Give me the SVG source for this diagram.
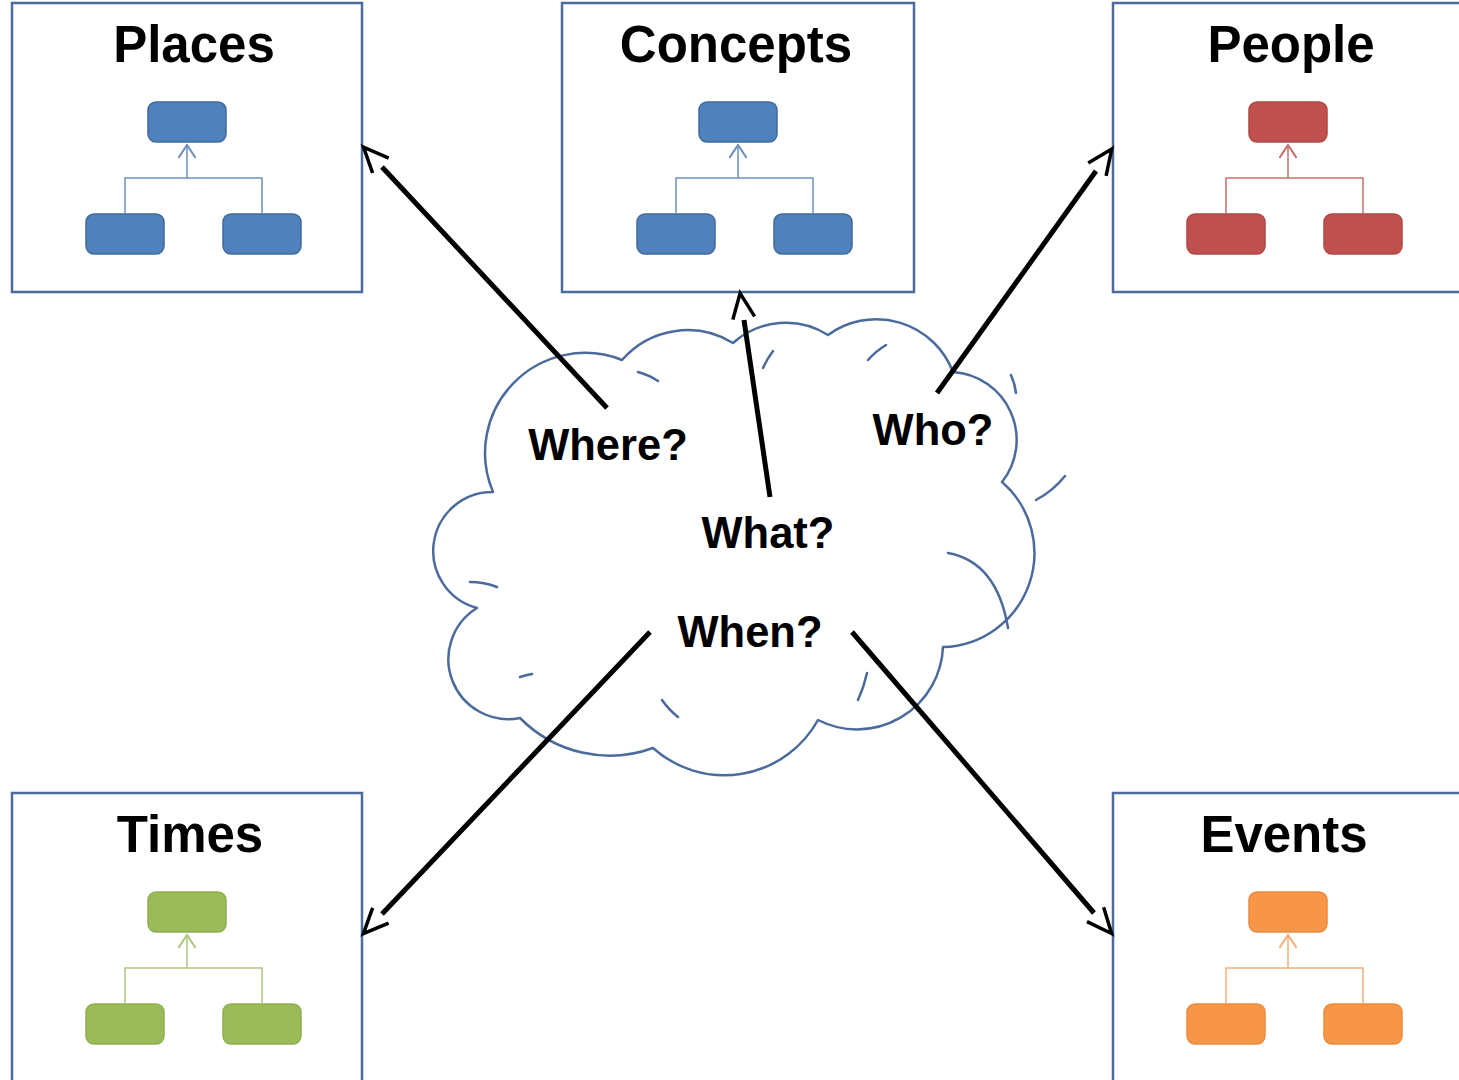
<svg xmlns="http://www.w3.org/2000/svg" width="1459" height="1080" viewBox="0 0 1459 1080">
<style>
.bg{fill:#ffffff}
.box{fill:#ffffff;stroke:#4a6b9c;stroke-width:2.5}
.title{font-family:"Liberation Sans",Arial,sans-serif;font-weight:bold;font-size:51px;fill:#000;text-anchor:middle}
.q{font-family:"Liberation Sans",Arial,sans-serif;font-weight:bold;font-size:43.5px;fill:#000;text-anchor:middle}
.cloud{fill:#ffffff;stroke:#4a6b9c;stroke-width:2.5;stroke-linejoin:round}
.deco{fill:none;stroke:#4a6b9c;stroke-width:2.5;stroke-linecap:round}
.conn{fill:none;stroke:#000;stroke-width:5;marker-end:url(#open)}
.tl{fill:none;stroke-width:1.5}
.tc{fill:none;stroke-width:2.2;stroke-linecap:round;stroke-linejoin:round}
.blue rect{fill:#4f81bd;stroke:#41699c;stroke-width:1.5}
.blue .tl,.blue .tc{stroke:#6f8fc0}
.red rect{fill:#c0504d;stroke:#b04743;stroke-width:1.5}
.red .tl,.red .tc{stroke:#c5706d}
.green rect{fill:#9bbb59;stroke:#8fae52;stroke-width:1.5}
.green .tl,.green .tc{stroke:#afc780}
.orange rect{fill:#f79646;stroke:#ec8c3f;stroke-width:1.5}
.orange .tl,.orange .tc{stroke:#f2b07c}
</style>
<defs>
<marker id="open" markerUnits="userSpaceOnUse" orient="auto" refX="0" refY="0" markerWidth="40" markerHeight="40" overflow="visible">
<path d="M2,-11 L27,0 L2,11" fill="none" stroke="#000" stroke-width="3.5" stroke-linejoin="miter"/>
</marker>
</defs>
<rect class="bg" x="0" y="0" width="1459" height="1080"/>

<g id="places">
<rect class="box" x="12" y="3" width="350" height="289"/>
<text class="title" x="194" y="62">Places</text>
<g class="blue">
<rect x="148" y="102" width="78" height="40" rx="8"/>
<rect x="86" y="214" width="78" height="40" rx="8"/>
<rect x="223" y="214" width="78" height="40" rx="8"/>
<path class="tl" d="M187,146 V178 M125,214 V178 H262 V214"/>
<path class="tc" d="M179,157 L187,145 L195,157"/>
</g>
</g>

<g id="concepts">
<rect class="box" x="562" y="3" width="352" height="289"/>
<text class="title" x="736" y="62">Concepts</text>
<g class="blue" transform="translate(551,0)">
<rect x="148" y="102" width="78" height="40" rx="8"/>
<rect x="86" y="214" width="78" height="40" rx="8"/>
<rect x="223" y="214" width="78" height="40" rx="8"/>
<path class="tl" d="M187,146 V178 M125,214 V178 H262 V214"/>
<path class="tc" d="M179,157 L187,145 L195,157"/>
</g>
</g>

<g id="people">
<rect class="box" x="1113" y="3" width="360" height="289"/>
<text class="title" x="1291" y="62">People</text>
<g class="red" transform="translate(1101,0)">
<rect x="148" y="102" width="78" height="40" rx="8"/>
<rect x="86" y="214" width="78" height="40" rx="8"/>
<rect x="223" y="214" width="78" height="40" rx="8"/>
<path class="tl" d="M187,146 V178 M125,214 V178 H262 V214"/>
<path class="tc" d="M179,157 L187,145 L195,157"/>
</g>
</g>

<g id="times">
<rect class="box" x="12" y="793" width="350" height="300"/>
<text class="title" x="190" y="852">Times</text>
<g class="green" transform="translate(0,790)">
<rect x="148" y="102" width="78" height="40" rx="8"/>
<rect x="86" y="214" width="78" height="40" rx="8"/>
<rect x="223" y="214" width="78" height="40" rx="8"/>
<path class="tl" d="M187,146 V178 M125,214 V178 H262 V214"/>
<path class="tc" d="M179,157 L187,145 L195,157"/>
</g>
</g>

<g id="events">
<rect class="box" x="1113" y="793" width="360" height="300"/>
<text class="title" x="1284" y="852">Events</text>
<g class="orange" transform="translate(1101,790)">
<rect x="148" y="102" width="78" height="40" rx="8"/>
<rect x="86" y="214" width="78" height="40" rx="8"/>
<rect x="223" y="214" width="78" height="40" rx="8"/>
<path class="tl" d="M187,146 V178 M125,214 V178 H262 V214"/>
<path class="tc" d="M179,157 L187,145 L195,157"/>
</g>
</g>

<g id="cloud">
<path class="cloud" d="M493,492 A100,100 0 0,1 622,360 A87,87 0 0,1 733,343 A79,79 0 0,1 828,335 A82,82 0 0,1 953,372 A68,68 0 0,1 1002,482 A94,94 0 0,1 943,647 A86,86 0 0,1 818,720 A107,107 0 0,1 653,748 A126,126 0 0,1 520,718 A60,60 0 0,1 477,608 A59,59 0 0,1 493,492 Z"/>
<path class="deco" d="M638,372 Q649,375 658,381 M763,368 Q767,359 773,351 M868,360 Q876,351 886,345 M1011,375 Q1015,384 1016,393 M1036,500 Q1053,491 1065,476 M948,553 Q997,562 1008,628 M867,673 Q864,687 858,700 M470,582 Q484,582 497,587 M520,677 Q526,675 532,674 M662,700 Q669,710 678,717"/>
<text class="q" x="608" y="460">Where?</text>
<text class="q" x="933" y="445">Who?</text>
<text class="q" x="768" y="548">What?</text>
<text class="q" x="750" y="647">When?</text>
</g>

<g id="connectors">
<path class="conn" d="M607,408 L382,167"/>
<path class="conn" d="M770,497 L744,320"/>
<path class="conn" d="M937,393 L1096,171"/>
<path class="conn" d="M650,632 L382,914"/>
<path class="conn" d="M852,632 L1094,913"/>
</g>
</svg>
